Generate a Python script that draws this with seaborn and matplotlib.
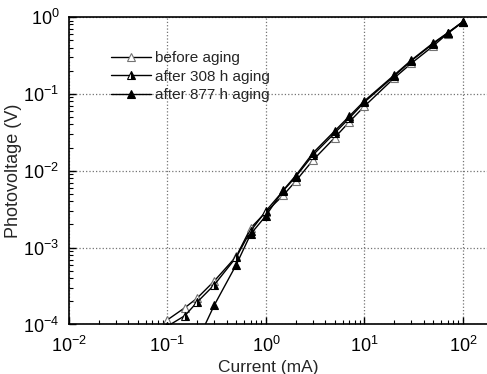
import numpy as np
import pandas as pd
import seaborn as sns
import matplotlib
matplotlib.use("Agg")
import matplotlib.pyplot as plt
from matplotlib.ticker import LogLocator, NullFormatter

# values (current in mA, photovoltage in V)
current_before = [0.1, 0.15, 0.2, 0.3, 0.5, 0.7, 1, 1.5, 2, 3, 5, 7, 10, 20, 30, 50, 70, 100]
volt_before = [1.15e-4, 1.65e-4, 2.2e-4, 3.7e-4, 7.7e-4, 1.8e-3, 2.9e-3, 4.8e-3, 7.3e-3,
               1.37e-2, 2.7e-2, 4.3e-2, 6.9e-2, 0.16, 0.25, 0.42, 0.61, 0.86]

current_308 = [0.1, 0.15, 0.2, 0.3, 0.5, 0.7, 1, 1.5, 2, 3, 5, 7, 10, 20, 30, 50, 70, 100]
volt_308 = [0.95e-4, 1.3e-4, 1.95e-4, 3.3e-4, 7.5e-4, 1.65e-3, 3.0e-3, 5.5e-3, 8.3e-3,
            1.6e-2, 3.1e-2, 4.8e-2, 7.8e-2, 0.17, 0.27, 0.45, 0.62, 0.87]

current_877 = [0.2, 0.3, 0.5, 0.7, 1, 1.5, 2, 3, 5, 7, 10, 20, 30, 50, 70, 100]
volt_877 = [6e-5, 1.8e-4, 6.0e-4, 1.5e-3, 2.6e-3, 5.6e-3, 8.6e-3, 1.7e-2, 3.3e-2,
            5.1e-2, 8.1e-2, 0.175, 0.275, 0.46, 0.62, 0.87]

labels = ["before aging", "after 308 h aging", "after 877 h aging"]

sns.set_style("ticks")
plt.rcParams['font.family'] = ['Liberation Sans', 'DejaVu Sans']
plt.rcParams['mathtext.fontset'] = 'custom'
plt.rcParams['mathtext.rm'] = 'Liberation Sans'
plt.rcParams['mathtext.it'] = 'Liberation Sans'

fig = plt.figure(figsize=(4.87, 3.74), dpi=100)
ax = fig.add_axes([0.1417, 0.1324, 1.0 - 0.1417 + 0.002, 0.8221])

common = dict(color="black", lw=1.0, markersize=5.5, markeredgewidth=0.8, ax=ax)
sns.lineplot(x=current_before, y=volt_before, marker="^", markerfacecolor="white",
             markeredgecolor="0.45", label=labels[0], **common)
sns.lineplot(x=current_308, y=volt_308, marker="^", fillstyle="right",
             markerfacecolor="black", markerfacecoloralt="white",
             markeredgecolor="black", label=labels[1], **common)
sns.lineplot(x=current_877, y=volt_877, marker="^", markerfacecolor="black",
             markeredgecolor="black", label=labels[2], **common)

ax.set_xscale("log")
ax.set_yscale("log")
ax.set_xlim(1e-2, 10 ** 2.255)
ax.set_ylim(1e-4, 1)

ax.xaxis.set_major_locator(LogLocator(base=10, numticks=10))
ax.yaxis.set_major_locator(LogLocator(base=10, numticks=10))
ax.xaxis.set_minor_locator(LogLocator(base=10, subs=np.arange(2, 10), numticks=20))
ax.yaxis.set_minor_locator(LogLocator(base=10, subs=np.arange(2, 10), numticks=20))
ax.xaxis.set_minor_formatter(NullFormatter())
ax.yaxis.set_minor_formatter(NullFormatter())

ax.tick_params(which="both", direction="in", top=False, right=False, colors="black",
               labelsize=13)
ax.tick_params(which="major", length=5, width=1)
ax.tick_params(which="minor", length=3, width=0.8)
ax.tick_params(axis="x", which="major", pad=8)
ax.tick_params(axis="y", which="major", pad=7)
ax.grid(which="major", linestyle=":", color="0.45", lw=0.9)

for side in ["left", "bottom", "top"]:
    ax.spines[side].set_color("black")
    ax.spines[side].set_linewidth(1.2)
ax.spines["right"].set_visible(False)

ax.set_xlabel("Current (mA)", fontsize=12.5)
ax.set_ylabel("Photovoltage (V)", fontsize=13, labelpad=1)
ax.xaxis.set_label_coords(0.475, -0.14, transform=ax.transAxes)
ax.xaxis.label.set_va("center")

leg = ax.legend(loc="upper left", bbox_to_anchor=(0.068, 0.934), frameon=False,
                fontsize=11, handlelength=2.6, handletextpad=0.25, labelspacing=0.3)

fig.savefig("out.png", dpi=100)
